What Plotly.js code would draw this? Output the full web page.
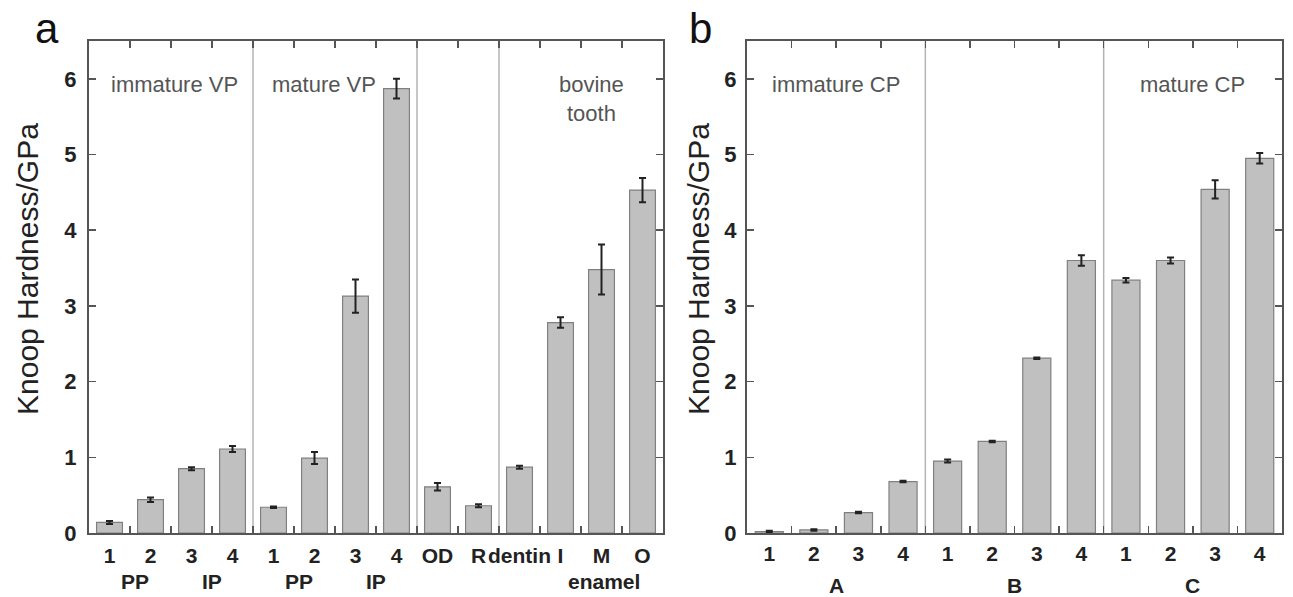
<!DOCTYPE html>
<html>
<head>
<meta charset="utf-8">
<script src="https://cdn.plot.ly/plotly-3.0.1.min.js"></script>
<style>html,body{margin:0;padding:0;background:#fff;}#chart{width:1293px;height:597px;}</style>
</head>
<body>
<div id="chart"></div>
<script>
// ---------- data: panel a ----------
const catsA = ['1','2','3','4','1','2','3','4','OD','R','dentin','I','M','O'];
const valsA = [0.14,0.44,0.85,1.11,0.34,0.99,3.13,5.87,0.61,0.36,0.87,2.78,3.48,4.53];
const errA  = [0.02,0.03,0.02,0.04,0.01,0.08,0.22,0.13,0.05,0.02,0.02,0.07,0.33,0.16];
const subLabelsA = ['PP','IP','PP','IP','enamel'];
const subSpansA  = [[0,1],[2,3],[4,5],[6,7],[11,13]];
const sectionTextA = ['immature VP','mature VP','','bovine<br>tooth'];
const sectionSpansA = [[0,3],[4,7],[8,9],[10,13]];

// ---------- data: panel b ----------
const catsB = ['1','2','3','4','1','2','3','4','1','2','3','4'];
const valsB = [0.02,0.04,0.27,0.68,0.95,1.21,2.31,3.60,3.34,3.60,4.54,4.95];
const errB  = [0.01,0.01,0.01,0.01,0.02,0.01,0.01,0.07,0.03,0.04,0.12,0.07];
const subLabelsB = ['A','B','C'];
const subSpansB  = [[0,3],[4,7],[8,11]];
const sectionTextB = ['immature CP','','mature CP'];
const sectionSpansB = [[0,3],[4,7],[8,11]];

const yTitle = 'Knoop Hardness/GPa';
const yTicks = [0,1,2,3,4,5,6];

// ---------- styling / layout ----------
const W = 1293, H = 597;
const FONT = 'Arial, "Liberation Sans", sans-serif';
const AXC = '#555555';
const px = v => v / W;
const py = v => 1 - v / H;
const domY = [py(533), py(41)];
const domXA = [px(89), px(663)];
const domXB = [px(747), px(1282)];

const idx = a => a.map((_, i) => i);
const bounds = a => a.slice(1).map((_, i) => i + 0.5);

function barTrace(vals, err, xa, ya) {
  return {
    type: 'bar', x: idx(vals), y: vals, xaxis: xa, yaxis: ya, width: 0.63,
    marker: {color: '#c0c0c0', line: {color: '#808080', width: 1.2}},
    error_y: {type: 'data', array: err, visible: true, color: '#222', thickness: 2, width: 3.5},
    hoverinfo: 'x+y', showlegend: false
  };
}

function frameX(cats, dom, anchor) {
  return {
    domain: dom, anchor: anchor, range: [-0.5, cats.length - 0.5],
    tickmode: 'array', tickvals: bounds(cats), showticklabels: false,
    ticks: 'inside', ticklen: 7, tickwidth: 1.5, tickcolor: AXC,
    showline: true, linecolor: AXC, linewidth: 2, mirror: 'ticks',
    showgrid: false, zeroline: false, fixedrange: true
  };
}
function labelX(cats, over, anchor, standoff) {
  return {
    overlaying: over, anchor: anchor, range: [-0.5, cats.length - 0.5],
    tickmode: 'array', tickvals: idx(cats), ticktext: cats, ticks: '', tickangle: 0,
    ticklabelstandoff: standoff,
    tickfont: {family: FONT, size: 21, color: '#222', weight: 'bold'},
    showline: false, showgrid: false, zeroline: false, fixedrange: true
  };
}
function frameY(anchor, standoff) {
  return {
    domain: domY, anchor: anchor, range: [0, 6.5],
    tickmode: 'array', tickvals: yTicks, ticks: 'inside', ticklen: 7, tickwidth: 1.5, tickcolor: AXC,
    ticklabelstandoff: standoff,
    tickfont: {family: FONT, size: 22, color: '#222', weight: 'bold'},
    showline: true, linecolor: AXC, linewidth: 2, mirror: 'ticks',
    showgrid: false, zeroline: false, fixedrange: true
  };
}

const shapes = [];
function separators(spans, xref) {
  spans.slice(1).forEach(s => {
    shapes.push({type: 'line', xref: xref, yref: 'paper', x0: s[0] - 0.5, x1: s[0] - 0.5,
      y0: domY[0], y1: domY[1], line: {color: '#b4b4b4', width: 1.5}, layer: 'below'});
  });
}
separators(sectionSpansA, 'x');
separators(sectionSpansB, 'x2');

const annotations = [];
function subLabels(labels, spans, xref, ypix, shifts) {
  labels.forEach((t, i) => {
    annotations.push({text: t, xref: xref, yref: 'paper', x: (spans[i][0] + spans[i][1]) / 2, y: py(ypix),
      xanchor: 'center', yanchor: 'middle', xshift: shifts[i] || 0, showarrow: false,
      font: {family: FONT, size: 21, color: '#222', weight: 'bold'}});
  });
}
subLabels(subLabelsA, subSpansA, 'x', 581, [5, 0, 5, 0, 2]);
subLabels(subLabelsB, subSpansB, 'x2', 585, [0, 0, 0]);

function sectionLabels(texts, spans, xref, shifts) {
  texts.forEach((t, i) => {
    if (!t) return;
    annotations.push({text: t, xref: xref, yref: 'paper', x: (spans[i][0] + spans[i][1]) / 2,
      y: py(70), xanchor: 'center', yanchor: 'top', xshift: shifts[i] || 0, showarrow: false, align: 'center',
      font: {family: FONT, size: 22, color: '#555'}});
  });
}
sectionLabels(sectionTextA, sectionSpansA, 'x', [3, -11, 0, 10]);
sectionLabels(sectionTextB, sectionSpansB, 'x2', [0, 0, 0]);

// axis titles and panel letters
annotations.push({text: yTitle, xref: 'paper', yref: 'paper', x: px(27), y: py(269), xanchor: 'center', yanchor: 'middle',
  textangle: -90, showarrow: false, font: {family: FONT, size: 30, color: '#222'}});
annotations.push({text: yTitle, xref: 'paper', yref: 'paper', x: px(698), y: py(269), xanchor: 'center', yanchor: 'middle',
  textangle: -90, showarrow: false, font: {family: FONT, size: 30, color: '#222'}});
annotations.push({text: 'a', xref: 'paper', yref: 'paper', x: px(47), y: py(28), xanchor: 'center', yanchor: 'middle',
  showarrow: false, font: {family: FONT, size: 42, color: '#111'}});
annotations.push({text: 'b', xref: 'paper', yref: 'paper', x: px(700), y: py(28), xanchor: 'center', yanchor: 'middle',
  showarrow: false, font: {family: FONT, size: 42, color: '#111'}});

// bars live on the label axes (which overlay the framed axes)
const data = [barTrace(valsA, errA, 'x3', 'y'), barTrace(valsB, errB, 'x4', 'y2')];

const layout = {
  width: W, height: H, margin: {l: 0, r: 0, t: 0, b: 0},
  paper_bgcolor: '#fff', plot_bgcolor: '#fff', showlegend: false,
  xaxis: frameX(catsA, domXA, 'y'),
  xaxis2: frameX(catsB, domXB, 'y2'),
  xaxis3: labelX(catsA, 'x', 'y', 8),
  xaxis4: labelX(catsB, 'x2', 'y2', 6),
  yaxis: frameY('x', 6),
  yaxis2: frameY('x2', 4),
  shapes: shapes, annotations: annotations
};

Plotly.newPlot('chart', data, layout, {displayModeBar: false, staticPlot: true});
</script>
</body>
</html>
